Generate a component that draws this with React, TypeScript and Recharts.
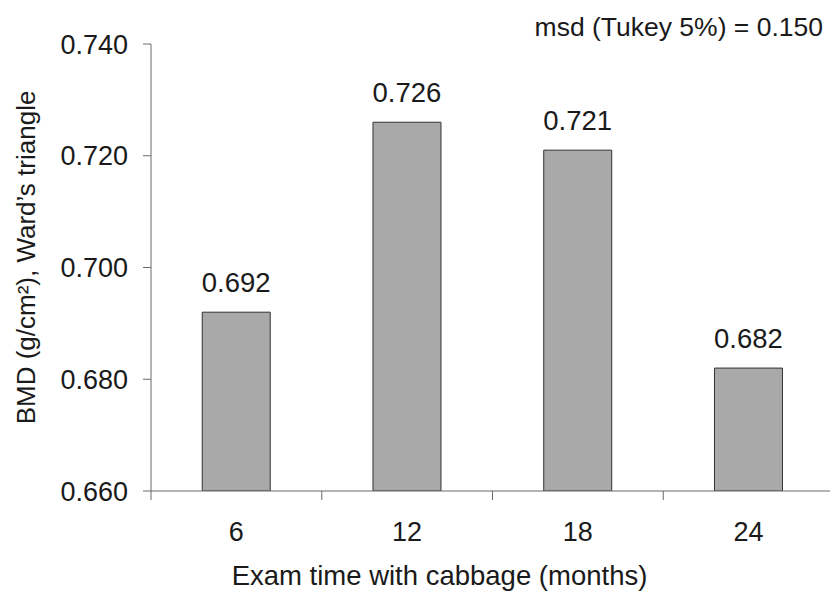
import { BarChart, Bar, XAxis, YAxis, LabelList, Label } from "recharts";

const months = ["6", "12", "18", "24"];
const bmd = [0.692, 0.726, 0.721, 0.682];
const yTicks = [0.66, 0.68, 0.7, 0.72, 0.74];

const data = months.map((m, i) => ({ month: m, value: bmd[i] }));

const FONT = '"Liberation Sans", Arial, sans-serif';
const TEXT = "#1a1a1a";
const AXIS = "#6a6a6a";

// category tick: label in the middle, tick mark on the band's left edge
const MonthTick = (props: any) => {
	const { x, y, payload, width, visibleTicksCount } = props;
	const band = (width || 683) / (visibleTicksCount || 4);
	const axisY = y - 31;
	return (
		<g>
			<line x1={x - band / 2} x2={x - band / 2} y1={axisY} y2={axisY + 9} stroke={AXIS} />
			<text x={x} y={y} dy="0.71em" textAnchor="middle" fill={TEXT} fontSize={27} fontFamily={FONT}>
				{payload.value}
			</text>
		</g>
	);
};

const App = () => {
	return (
		<div style={{ position: "absolute", left: 0, top: 0, width: 830, height: 592, overflow: "hidden", background: "#fff" }}>
			<div
				style={{
					position: "absolute",
					right: 7,
					top: 14,
					fontSize: 26.5,
					lineHeight: "26px",
					fontFamily: FONT,
					color: TEXT,
					whiteSpace: "nowrap",
				}}
			>
				msd (Tukey 5%) = 0.150
			</div>
			<BarChart width={850} height={592} data={data} margin={{ top: 44, right: 16, bottom: 0, left: 0 }} barCategoryGap="30%">
				<XAxis
					dataKey="month"
					height={101}
					stroke={AXIS}
					tickLine={false}
					tickSize={9}
					tickMargin={22}
					tick={<MonthTick />}
					interval={0}
				>
					<Label
						value="Exam time with cabbage (months)"
						position="insideBottom"
						offset={7}
						dx={-53}
						fill={TEXT}
						fontSize={27.5}
						fontFamily={FONT}
					/>
				</XAxis>
				<YAxis
					width={151}
					domain={[0.66, 0.74]}
					ticks={yTicks}
					interval={0}
					allowDataOverflow
					stroke={AXIS}
					tickSize={8}
					tickMargin={15}
					tickFormatter={(v: number) => v.toFixed(3)}
					tick={{ fill: TEXT, fontSize: 27, fontFamily: FONT }}
				>
					<Label
						value="BMD (g/cm²), Ward’s triangle"
						angle={-90}
						position="center"
						dx={-50}
						dy={-10}
						fill={TEXT}
						fontSize={26}
						fontFamily={FONT}
					/>
				</YAxis>
				<Bar dataKey="value" fill="#a9a9a9" stroke="#333" strokeWidth={1} isAnimationActive={false}>
					<LabelList
						dataKey="value"
						position="top"
						offset={20}
						formatter={(v: any) => Number(v).toFixed(3)}
						fill={TEXT}
						fontSize={27.5}
						fontFamily={FONT}
					/>
				</Bar>
			</BarChart>
		</div>
	);
};

export default App;
